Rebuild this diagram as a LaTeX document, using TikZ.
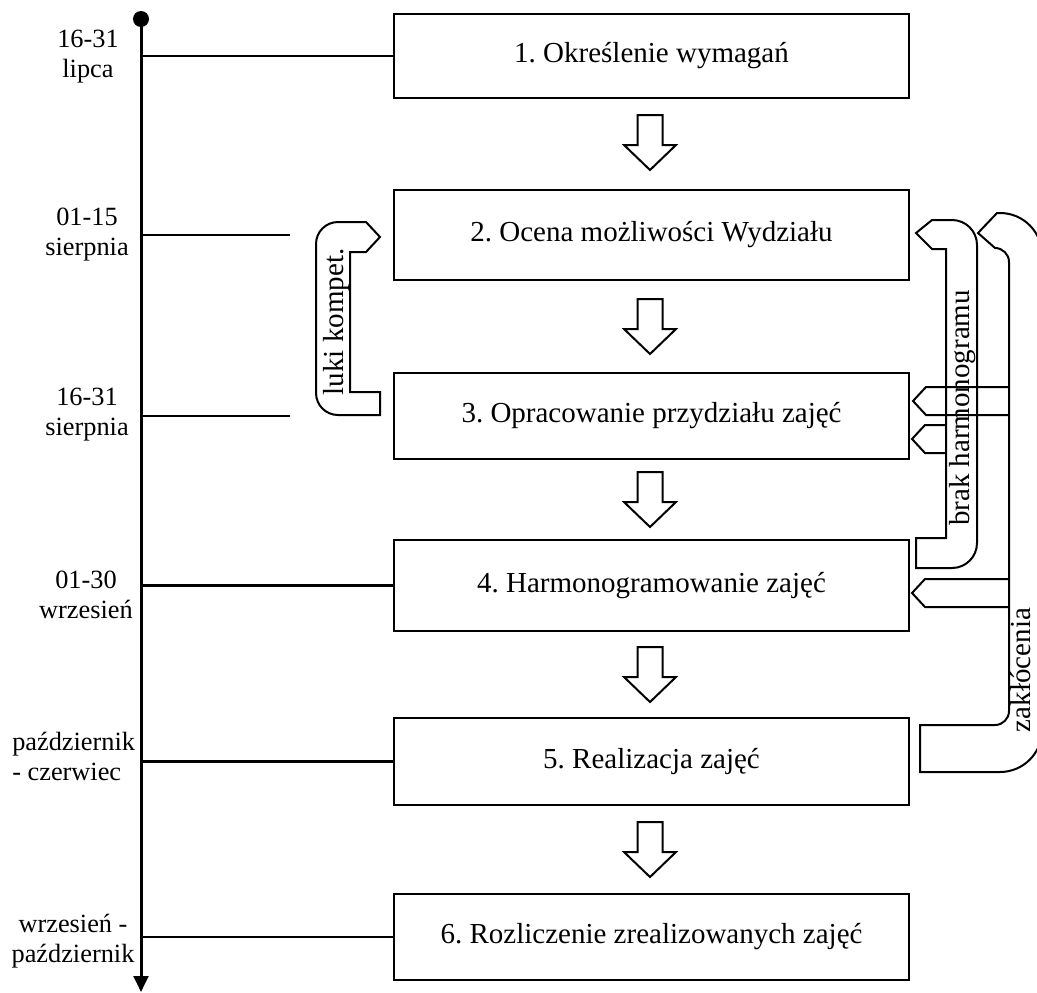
\documentclass[tikz,border=0pt]{standalone}
\usepackage{fontspec}
\setmainfont{Liberation Serif}
\usetikzlibrary{arrows.meta}
\frenchspacing
\begin{document}
\begin{tikzpicture}[x=0.75pt,y=-0.75pt,
  stage/.style={draw, line width=1.6pt, minimum width=386.25pt, inner sep=0pt,
    font=\fontsize{21.75}{26}\selectfont},
  datelabel/.style={align=center, inner sep=0pt,
    font=\fontsize{19.75}{22.5}\selectfont},
  tickline/.style={line width=2pt},
  loopline/.style={line width=1.5pt, line join=miter},
  looptext/.style={rotate=90, inner sep=0pt, font=\fontsize{21.75}{26}\selectfont},
  hollowdown/.pic={\draw[line width=1.5pt] (-12.5,0) -- (12.5,0) -- (12.5,30)
    -- (26,30) -- (0,55) -- (-26,30) -- (-12.5,30) -- cycle;}
]
\useasboundingbox (0,0) rectangle (1037,992);

% time axis
\coordinate (tstart) at (141,19);
\coordinate (tend) at (141,992);
\fill (tstart) circle[radius=6pt];
\draw[line width=2.25pt, -{Triangle[length=12pt,width=11pt]}] (tstart) -- (tend);

% process stages
\node[stage, minimum height=63pt]    (b1) at (651.5,56)    {1. Określenie wymagań};
\node[stage, minimum height=67.5pt]  (b2) at (651.5,235)   {2. Ocena możliwości Wydziału};
\node[stage, minimum height=64.5pt]  (b3) at (651.5,416)   {3. Opracowanie przydziału zajęć};
\node[stage, minimum height=68.25pt] (b4) at (651.5,585.5) {4. Harmonogramowanie zajęć};
\node[stage, minimum height=65.25pt] (b5) at (651.5,761.5) {5. Realizacja zajęć};
\node[stage, minimum height=64.5pt]  (b6) at (651.5,937)   {6. Rozliczenie zrealizowanych zajęć};

% ticks from the time axis
\coordinate (t2end) at (290,235);
\coordinate (t3end) at (290,416);
\draw[tickline] (tstart |- b1.west) -- (b1.west);
\draw[tickline] (tstart |- b2.west) -- (t2end);
\draw[tickline] (tstart |- b3.west) -- (t3end);
\draw[tickline] (tstart |- b4.west) -- (b4.west);
\draw[tickline] (tstart |- b5.west) -- (b5.west);
\draw[tickline] (tstart |- b6.west) -- (b6.west);

% date labels
\node[datelabel] (d1) at (88,57)  {16-31\\lipca};
\node[datelabel] (d2) at (87,235) {01-15\\sierpnia};
\node[datelabel] (d3) at (87,415) {16-31\\sierpnia};
\node[datelabel] (d4) at (86,595) {01-30\\wrzesień};
\node[datelabel, align=left, anchor=west] (d5) at (12,756) {październik\\- czerwiec};
\node[datelabel] (d6) at (73,941) {wrzesień -\\październik};

% flow between stages
\pic at (650,115) {hollowdown};
\pic at (650,299) {hollowdown};
\pic at (650,472) {hollowdown};
\pic at (650,647) {hollowdown};
\pic at (650,822) {hollowdown};

% feedback: competence gaps (3 -> 2)
\draw[loopline] (366,252) -- (350,252) -- (350,392) -- (380,392) -- (380,415)
  -- (338,415) arc[start angle=270, end angle=180, radius=16.5pt]
  -- (316,244) arc[start angle=180, end angle=90, radius=16.5pt]
  -- (366,222) -- (380,237) -- cycle;
\node[looptext] (luki) at (337,322) {luki kompet.};

% feedback: missing schedule (4 -> 2, 3)
\draw[loopline] (916,233) -- (932,220) -- (952,220)
  arc[start angle=90, end angle=0, radius=18.75pt]
  -- (977,543) arc[start angle=0, end angle=-90, radius=18.75pt]
  -- (916,568) -- (916,538) -- (946,538) -- (946,249) -- (932,249) -- cycle;
\draw[loopline] (946,425) -- (925,425) -- (912,439) -- (925,453) -- (946,453);
\node[looptext] (brak) at (963,408) {brak harmonogramu};

% feedback: disruptions (5 -> 4, 3, 2)
\draw[loopline] (978,233) -- (997,213) -- (1000,213)
  arc[start angle=90, end angle=0, radius=31.5pt]
  -- (1042,730) arc[start angle=0, end angle=-90, radius=31.5pt]
  -- (920,772) -- (920,725) -- (995,725)
  arc[start angle=-90, end angle=0, radius=10.5pt]
  -- (1009,262) arc[start angle=0, end angle=90, radius=10.5pt]
  -- cycle;
\draw[loopline] (1009,387) -- (926,387) -- (913,401) -- (926,415) -- (1009,415);
\draw[loopline] (1009,579) -- (925,579) -- (912,593) -- (925,607) -- (1009,607);
\node[looptext] (zakl) at (1021,670) {zakłócenia};
\end{tikzpicture}
\end{document}
